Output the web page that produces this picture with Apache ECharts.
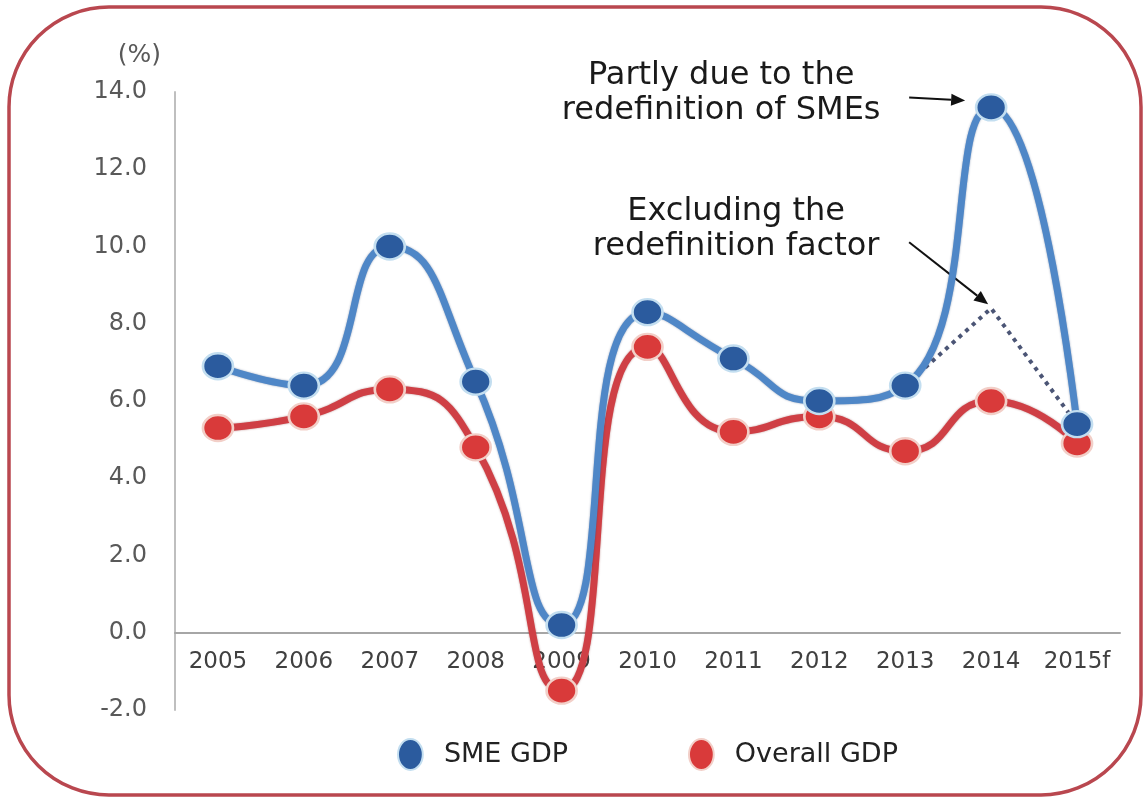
<!DOCTYPE html>
<html>
<head>
<meta charset="utf-8">
<script src="https://cdn.jsdelivr.net/npm/echarts@6/dist/echarts.min.js"></script>
<style>
  html, body { margin: 0; padding: 0; background: #fff; }
  #growth-chart { width: 1148px; height: 803px; }
</style>
</head>
<body>
<div id="growth-chart"></div>
<script>
// 年份
var years = ['2005', '2006', '2007', '2008', '2009', '2010', '2011', '2012', '2013', '2014', '2015f'];
// SME GDP 增长率
var smeGdp = [6.9, 6.4, 10.0, 6.5, 0.2, 8.3, 7.1, 6.0, 6.4, 13.6, 5.4];
// 整体 GDP 增长率
var overallGdp = [5.3, 5.6, 6.3, 4.8, -1.5, 7.4, 5.2, 5.6, 4.7, 6.0, 4.9];
// 剔除重新定义因素
var excludingFactor = [null, null, null, null, null, null, null, null, 6.4, 8.4, 5.4];
// y轴刻度
var yTicks = { min: -2, max: 14, interval: 2 };

var FONT = '"DejaVu Sans", "Liberation Sans", Arial, sans-serif';
var GRID = { left: 175, right: 28, top: 92, bottom: 93 };
var ELLIPSE = 'path://M0,15A12,15,0,1,0,24,15A12,15,0,1,0,0,15Z';

var chart = echarts.init(document.getElementById('growth-chart'));

// x轴放在 0 的位置
var plotH = 803 - GRID.top - GRID.bottom;
var zeroOffset = plotH * (0 - yTicks.min) / (yTicks.max - yTicks.min);

var option = {
    animation: false,
    textStyle: { fontFamily: FONT },
    grid: GRID,
    legend: {
        left: 392,
        top: 733,
        itemWidth: 25,
        itemHeight: 31,
        itemGap: 120,
        data: [
            { name: 'SME GDP', icon: ELLIPSE },
            { name: 'Overall GDP', icon: ELLIPSE }
        ],
        textStyle: { color: '#222', fontSize: 27, fontFamily: FONT, padding: [0, 0, 0, 16] }
    },
    xAxis: {
        type: 'category',
        data: years,
        boundaryGap: true,
        position: 'bottom',
        offset: -zeroOffset,
        axisLine: { onZero: false, lineStyle: { color: '#a6a6a6', width: 2 } },
        axisTick: { show: false },
        axisLabel: { color: '#404040', fontSize: 23, margin: 18, fontFamily: FONT, interval: 0 },
        splitLine: { show: false }
    },
    yAxis: {
        type: 'value',
        min: yTicks.min,
        max: yTicks.max,
        interval: yTicks.interval,
        name: '(%)',
        nameLocation: 'end',
        nameGap: 24,
        nameTextStyle: { color: '#595959', fontSize: 25, align: 'right', padding: [0, 14, 0, 0], fontFamily: FONT },
        axisLine: { show: true, lineStyle: { color: '#bfbfbf', width: 2 } },
        axisTick: { show: false },
        axisLabel: {
            color: '#595959', fontSize: 24, margin: 28, fontFamily: FONT,
            formatter: function (v) { return v.toFixed(1); }
        },
        splitLine: { show: false }
    },
    series: [
        {
            name: 'Excluding',
            type: 'line',
            data: excludingFactor,
            symbol: 'none',
            z: 1,
            lineStyle: { color: '#4b5575', width: 4, type: [4, 5] }
        },
        {
            name: 'Overall GDP',
            type: 'line',
            data: overallGdp,
            smooth: 0.55,
            symbol: 'circle',
            symbolSize: [30, 26],
            z: 2,
            lineStyle: { color: '#cf3f45', width: 7, shadowColor: 'rgba(120,20,20,0.5)', shadowBlur: 2 },
            itemStyle: { color: '#d93a3a', borderColor: '#f2cfc8', borderWidth: 2.5 }
        },
        {
            name: 'SME GDP',
            type: 'line',
            data: smeGdp,
            smooth: 0.55,
            symbol: 'circle',
            symbolSize: [30, 26],
            z: 3,
            lineStyle: { color: '#4f87c7', width: 7, shadowColor: 'rgba(30,60,110,0.5)', shadowBlur: 2 },
            itemStyle: { color: '#2b5b9e', borderColor: '#c3def0', borderWidth: 2.5 }
        }
    ]
};

chart.setOption(option);

// 注释和箭头
function arrow(x1, y1, x2, y2) {
    var ang = Math.atan2(y2 - y1, x2 - x1);
    var len = 14, w = 6;
    var bx = x2 - len * Math.cos(ang), by = y2 - len * Math.sin(ang);
    return [
        { type: 'line', shape: { x1: x1, y1: y1, x2: bx, y2: by }, style: { stroke: '#111', lineWidth: 2 } },
        { type: 'polygon', shape: { points: [
            [x2, y2],
            [bx + w * Math.sin(ang), by - w * Math.cos(ang)],
            [bx - w * Math.sin(ang), by + w * Math.cos(ang)]
        ] }, style: { fill: '#111' } }
    ];
}

var peak = chart.convertToPixel({ seriesIndex: 2 }, [9, smeGdp[9]]);
var excl = chart.convertToPixel({ seriesIndex: 0 }, [9, excludingFactor[9]]);

var graphics = [
    {
        type: 'rect', silent: true, z: -1,
        shape: { x: 9, y: 7, width: 1132, height: 788, r: 100 },
        style: { fill: 'none', stroke: '#b9474f', lineWidth: 3.5 }
    },
    {
        type: 'text', x: peak[0] - 270, y: peak[1] - 49,
        style: { text: 'Partly due to the\nredefinition of SMEs', align: 'center', fill: '#1a1a1a',
                 font: '32px ' + FONT, lineHeight: 35 }
    },
    {
        type: 'text', x: excl[0] - 255, y: excl[1] - 114,
        style: { text: 'Excluding the\nredefinition factor', align: 'center', fill: '#1a1a1a',
                 font: '32px ' + FONT, lineHeight: 35 }
    }
].concat(
    arrow(peak[0] - 82, peak[1] - 10, peak[0] - 26, peak[1] - 7),
    arrow(excl[0] - 82, excl[1] - 66, excl[0] - 3, excl[1] - 4)
);

chart.setOption({ graphic: graphics });

window.onresize = function () {
    chart.resize();
};
</script>
</body>
</html>
